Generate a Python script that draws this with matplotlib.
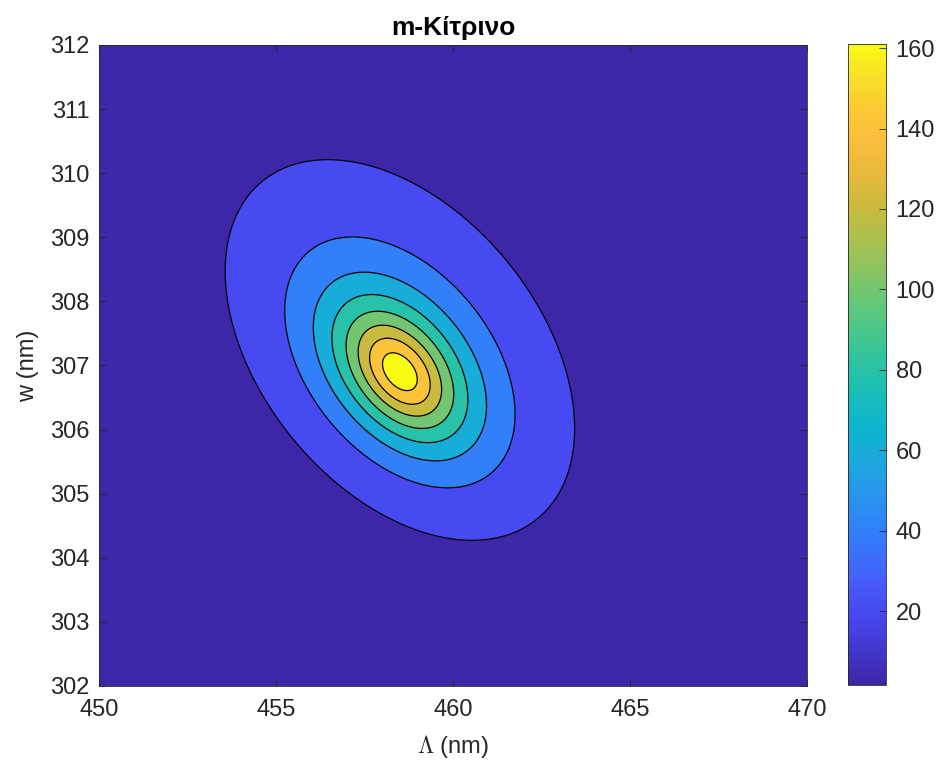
import numpy as np
import matplotlib
matplotlib.use('Agg')
import matplotlib.pyplot as plt
from matplotlib.colors import LinearSegmentedColormap, Normalize
from matplotlib.cm import ScalarMappable

plt.rcParams['font.family'] = ['Liberation Sans', 'DejaVu Sans']
plt.rcParams['mathtext.fontset'] = 'cm'

# axes / grid
lam_range = [450, 470]
w_range = [302, 312]
xticks = [450, 455, 460, 465, 470]
yticks = [302, 303, 304, 305, 306, 307, 308, 309, 310, 311, 312]
cb_ticks = [20, 40, 60, 80, 100, 120, 140, 160]
levels = [20, 40, 60, 80, 100, 120, 140, 160]
clim = [1.7, 161.0]

# peak shape parameters (Lorentzian-like peak, tilted, slightly skewed to larger w)
peak_height = 172.0
peak_lam = 458.5
peak_w = 306.9
shape_A = 0.376      # Λ-Λ term
shape_B = 0.258      # cross term
shape_C = 1.039      # w-w term
skew_w = 0.045       # upward drift of the outer rings

# MATLAB parula (approx.)
parula_pts = [
    (0.00, (0.2422, 0.1504, 0.6603)),
    (0.10, (0.2765, 0.2720, 0.9300)),
    (0.15, (0.2810, 0.3450, 0.9750)),
    (0.20, (0.2400, 0.4350, 0.9950)),
    (0.25, (0.1786, 0.5150, 0.9700)),
    (0.30, (0.1550, 0.5900, 0.9250)),
    (0.35, (0.1140, 0.6600, 0.8700)),
    (0.40, (0.0500, 0.7100, 0.8100)),
    (0.45, (0.0900, 0.7400, 0.7300)),
    (0.50, (0.1700, 0.7650, 0.6400)),
    (0.55, (0.2800, 0.7800, 0.5500)),
    (0.60, (0.4000, 0.7800, 0.4700)),
    (0.65, (0.5500, 0.7700, 0.3800)),
    (0.70, (0.6800, 0.7500, 0.3000)),
    (0.75, (0.8000, 0.7300, 0.2400)),
    (0.80, (0.9100, 0.7250, 0.2350)),
    (0.85, (0.9800, 0.7450, 0.2400)),
    (0.90, (0.9950, 0.7900, 0.2050)),
    (0.95, (0.9700, 0.8800, 0.1500)),
    (1.00, (0.9769, 0.9839, 0.0805)),
]
parula = LinearSegmentedColormap.from_list('parula', parula_pts)

lam = np.linspace(lam_range[0], lam_range[1], 801)
w = np.linspace(w_range[0], w_range[1], 601)
L, W = np.meshgrid(lam, w)
dx = L - peak_lam
dy = W - peak_w

# q solves q0(dx, dy - skew*q) = q
q0 = shape_A * dx**2 + 2 * shape_B * dx * dy + shape_C * dy**2
a = shape_C * skew_w**2
b = -(1 + 2 * skew_w * (shape_B * dx + shape_C * dy))
disc = b**2 - 4 * a * q0
q = np.where(disc > 0, (-b - np.sqrt(np.clip(disc, 0, None))) / (2 * a), 200.0)
Z = peak_height / (1 + q)

norm = Normalize(vmin=clim[0], vmax=clim[1])
fill_levels = [-1] + levels + [1000]
fill_colors = [parula(norm(clim[0]))] + [parula(norm(v)) for v in levels]

fig = plt.figure(figsize=(9.38, 7.65), dpi=100)
ax = fig.add_axes([99 / 938, 1 - 686 / 765, 708 / 938, 641 / 765])
ax.contourf(L, W, Z, levels=fill_levels, colors=fill_colors)
ax.contour(L, W, Z, levels=levels, colors='black', linewidths=0.9)

ax.set_xlim(lam_range)
ax.set_ylim(w_range)
ax.set_xticks(xticks)
ax.set_yticks(yticks)
ax.tick_params(direction='in', length=5, width=0.6, top=True, right=True,
               labelsize=17, colors='#262626', labelcolor='#262626')
ax.tick_params(axis='x', pad=9)
ax.tick_params(axis='y', pad=7)
for s in ax.spines.values():
    s.set_color('#262626')
    s.set_linewidth(0.6)

ax.set_title('m-Κίτρινο', fontsize=19, fontweight='bold', pad=7)
ax.set_xlabel(r'$\Lambda$ (nm)', fontsize=17, color='#262626', labelpad=9)
ax.set_ylabel('w (nm)', fontsize=17, color='#262626', labelpad=8)

cax = fig.add_axes([848 / 938, 1 - 685 / 765, 38 / 938, 641 / 765])
sm = ScalarMappable(norm=norm, cmap=parula)
cb = fig.colorbar(sm, cax=cax)
cb.set_ticks(cb_ticks)
cb.ax.tick_params(direction='in', length=5, width=0.6, labelsize=17,
                  colors='#262626', labelcolor='#262626', pad=7)
cb.outline.set_edgecolor('#262626')
cb.outline.set_linewidth(0.6)

fig.savefig('out.png', dpi=100)
